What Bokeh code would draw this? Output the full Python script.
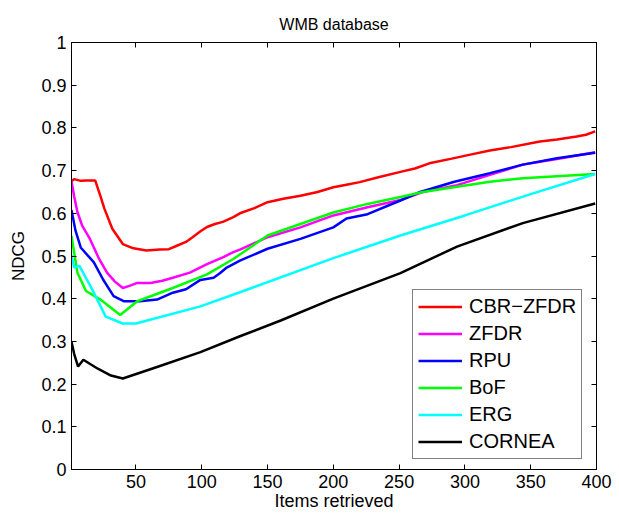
from bokeh.plotting import figure
from bokeh.models import Range1d, FixedTicker, LinearAxis, Legend, LegendItem
from bokeh.embed import file_html
from bokeh.resources import INLINE

# ---- data ----
title_text = "WMB database"
x_label = "Items retrieved"
y_label = "NDCG"

x_ticks = [50, 100, 150, 200, 250, 300, 350, 400]
y_ticks = [0, 0.1, 0.2, 0.3, 0.4, 0.5, 0.6, 0.7, 0.8, 0.9, 1]
y_tick_labels = ["0", "0.1", "0.2", "0.3", "0.4", "0.5", "0.6", "0.7", "0.8", "0.9", "1"]

series_names = ["CBR\u2212ZFDR", "ZFDR", "RPU", "BoF", "ERG", "CORNEA"]
series_colors = ["#ff0000", "#ff00ff", "#0000ff", "#00ff00", "#00ffff", "#000000"]

cbr_x = [1, 3, 8, 12, 19, 23, 26, 32, 40, 48, 58, 68, 75, 81, 88, 93, 99, 104, 110, 116, 124, 129,
         140, 150, 162, 175, 188, 200, 210, 220, 235, 251, 262, 273, 290, 305, 319, 335, 357, 370,
         385, 392, 399]
cbr_y = [0.675, 0.680, 0.676, 0.677, 0.677, 0.640, 0.611, 0.564, 0.528, 0.518, 0.513, 0.515, 0.516,
         0.524, 0.533, 0.544, 0.558, 0.568, 0.575, 0.580, 0.591, 0.600, 0.612, 0.626, 0.634, 0.641,
         0.650, 0.661, 0.667, 0.673, 0.685, 0.697, 0.705, 0.717, 0.728, 0.738, 0.747, 0.755, 0.768,
         0.773, 0.780, 0.784, 0.792]

zfdr_x = [1, 3, 5.5, 9, 15, 22, 28, 34, 40, 45, 51, 61, 70, 78, 91, 104, 116, 124, 129, 150, 175,
          200, 226, 251, 268, 294, 319, 344, 370, 399]
zfdr_y = [0.675, 0.640, 0.603, 0.572, 0.540, 0.493, 0.461, 0.440, 0.425, 0.430, 0.437, 0.437, 0.442,
          0.449, 0.461, 0.481, 0.497, 0.509, 0.515, 0.544, 0.567, 0.595, 0.614, 0.631, 0.650, 0.666,
          0.690, 0.714, 0.727, 0.743]

rpu_x = [1, 4, 8, 18, 25, 33, 41, 53, 66, 78, 88, 99, 109, 114, 119, 129, 150, 175, 200, 210, 226,
         251, 266, 292, 319, 344, 370, 399]
rpu_y = [0.608, 0.560, 0.520, 0.485, 0.445, 0.406, 0.394, 0.394, 0.398, 0.414, 0.422, 0.444, 0.449,
         0.460, 0.473, 0.489, 0.517, 0.540, 0.567, 0.588, 0.598, 0.630, 0.650, 0.674, 0.694, 0.714,
         0.729, 0.742]

bof_x = [1, 5.5, 12, 23, 38, 51, 78, 104, 124, 150, 175, 200, 226, 251, 268, 294, 319, 344, 370, 399]
bof_y = [0.547, 0.461, 0.418, 0.398, 0.362, 0.394, 0.425, 0.457, 0.493, 0.548, 0.575, 0.602, 0.622,
         0.638, 0.650, 0.662, 0.674, 0.682, 0.687, 0.692]

erg_x = [1, 3, 7, 17, 27, 40, 50, 99, 129, 200, 251, 300, 350, 399]
erg_y = [0.502, 0.473, 0.477, 0.420, 0.358, 0.342, 0.342, 0.382, 0.415, 0.495, 0.548, 0.595, 0.645, 0.692]

cornea_x = [1, 3, 6, 10, 21, 31, 40, 66, 99, 129, 160, 200, 251, 294, 344, 399]
cornea_y = [0.299, 0.271, 0.241, 0.257, 0.236, 0.220, 0.213, 0.240, 0.275, 0.312, 0.349, 0.400,
            0.460, 0.522, 0.577, 0.623]

series_x = [cbr_x, zfdr_x, rpu_x, bof_x, erg_x, cornea_x]
series_y = [cbr_y, zfdr_y, rpu_y, bof_y, erg_y, cornea_y]

FONT = "Liberation Sans"

p = figure(width=619, height=514, output_backend="svg", toolbar_location=None,
           x_range=Range1d(1, 400), y_range=Range1d(0, 1),
           min_border_left=71, min_border_right=23, min_border_top=42, min_border_bottom=45,
           x_axis_location=None, y_axis_location=None)
p.xgrid.visible = False
p.ygrid.visible = False
p.outline_line_color = "black"
p.outline_line_width = 1
p.background_fill_color = "white"
p.border_fill_color = "white"

p.title.text = title_text
p.title.text_font = FONT
p.title.text_font_size = "16px"
p.title.text_font_style = "normal"
p.title.align = "center"
p.title.text_color = "black"
p.title.standoff = 20


def make_axis(ticks, labels=None, show=True):
    ax = LinearAxis(ticker=FixedTicker(ticks=ticks))
    ax.major_tick_in = 5
    ax.major_tick_out = 0
    ax.minor_tick_line_color = None
    ax.axis_line_color = "black"
    ax.major_tick_line_color = "black"
    ax.major_label_text_font = FONT
    ax.major_label_text_font_size = "18px"
    ax.major_label_text_color = "black"
    ax.major_label_standoff = 5
    if labels is not None:
        ax.major_label_overrides = {t: l for t, l in zip(ticks, labels)}
    if not show:
        ax.major_label_text_font_size = "1px"
        ax.major_label_text_color = None
        ax.major_label_standoff = 0
    return ax


xb = make_axis(x_ticks)
xb.axis_label = x_label
xb.axis_label_text_font = FONT
xb.axis_label_text_font_size = "18px"
xb.axis_label_text_font_style = "normal"
xb.axis_label_text_color = "black"
xb.axis_label_standoff = 0
p.add_layout(xb, "below")
xa = make_axis(x_ticks, show=False)
p.add_layout(xa, "above")
yl = make_axis(y_ticks, y_tick_labels)
yl.axis_label = y_label
yl.axis_label_text_font = FONT
yl.axis_label_text_font_size = "17px"
yl.axis_label_text_font_style = "normal"
yl.axis_label_text_color = "black"
yl.axis_label_standoff = 10
p.add_layout(yl, "left")
yr = make_axis(y_ticks, show=False)
p.add_layout(yr, "right")

items = []
for name, color, xs, ys in zip(series_names, series_colors, series_x, series_y):
    r = p.line(xs, ys, line_color=color, line_width=2.5)
    items.append(LegendItem(label=name, renderers=[r]))

legend = Legend(items=items, location=(341, 10))
legend.border_line_color = "black"
legend.border_line_width = 1
legend.background_fill_color = "white"
legend.background_fill_alpha = 1
legend.label_text_font = FONT
legend.label_text_font_size = "20px"
legend.label_text_color = "black"
legend.glyph_width = 44
legend.glyph_height = 21
legend.label_height = 21
legend.label_standoff = 7
legend.spacing = 4
legend.padding = 5
legend.margin = 0
p.add_layout(legend, "center")

open("out.html", "w").write(file_html(p, INLINE))
